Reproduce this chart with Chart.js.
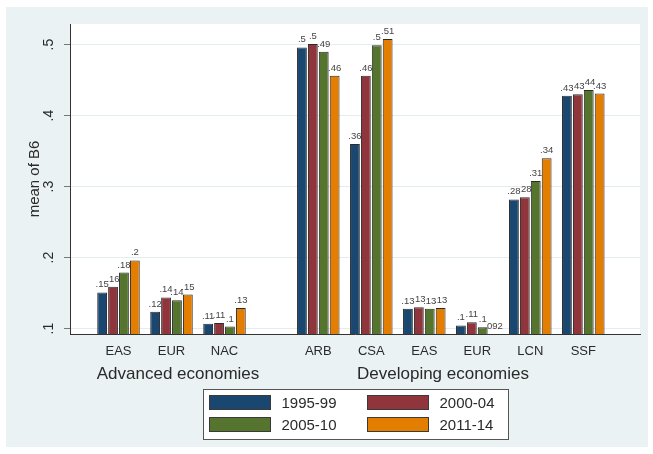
<!DOCTYPE html>
<html>
<head>
<meta charset="utf-8">
<script src="https://cdn.jsdelivr.net/npm/chart.js@4.4.1/dist/chart.umd.min.js"></script>
<style>
  html, body { margin: 0; padding: 0; background: #fff; }
  #wrap { width: 653px; height: 454px; position: relative; }
  canvas { display: block; }
</style>
</head>
<body>
<div id="wrap"><canvas id="c" width="653" height="454"></canvas></div>
<script>
// Regions (inner category) and the economy group each belongs to
const regions = ['EAS', 'EUR', 'NAC', 'ARB', 'CSA', 'EAS', 'EUR', 'LCN', 'SSF'];
const groups = ['Advanced economies', 'Developing economies'];
const groupOf = [0, 0, 0, 1, 1, 1, 1, 1, 1];

// Periods (series)
const periods = ['1995-99', '2000-04', '2005-10', '2011-14'];

// Mean of B6 by region, one array per period
const b6_1995_99 = [0.151, 0.124, 0.107, 0.496, 0.360, 0.128, 0.1045, 0.282, 0.428];
const b6_2000_04 = [0.159, 0.144, 0.108, 0.501, 0.456, 0.130, 0.109, 0.2849, 0.430];
const b6_2005_10 = [0.179, 0.140, 0.103, 0.490, 0.499, 0.128, 0.102, 0.308, 0.436];
const b6_2011_14 = [0.196, 0.148, 0.129, 0.456, 0.508, 0.129, 0.092, 0.340, 0.431];

// Value-axis ticks
const yTicks = [0.1, 0.2, 0.3, 0.4, 0.5];

// ---- presentation ----
const FONT = "'Liberation Sans', Arial, sans-serif";
const TEXT = '#2a2a2a';
const colors = ['#1a476f', '#90353b', '#55752f', '#e37e00'];
const series = [b6_1995_99, b6_2000_04, b6_2005_10, b6_2011_14];
const GROUP_GAP = 0.77;              // extra space between the two economy groups
const xPos = regions.map((_, i) => i + (groupOf[i] === 1 ? GROUP_GAP : 0));
const groupLabelX = [178, 443];      // centres of the group captions (px)

// Stata-like %9.2g label: two significant digits, no leading zero
const fmt = v => String(Number(v.toPrecision(2))).replace(/^0\./, '.');

const decor = {
  id: 'decor',
  beforeDraw(chart) {
    const { ctx, chartArea: a } = chart;
    ctx.save();
    ctx.fillStyle = '#ffffff';
    ctx.fillRect(0, 0, chart.width, chart.height);
    ctx.fillStyle = '#eaf2f3';
    ctx.fillRect(6, 7, 642, 440);
    ctx.fillStyle = '#ffffff';
    ctx.fillRect(a.left, a.top, a.right - a.left, a.bottom - a.top);
    ctx.restore();
  },
  afterDatasetsDraw(chart) {
    const ctx = chart.ctx;
    ctx.save();
    ctx.font = '9.5px ' + FONT;
    ctx.fillStyle = '#444';
    ctx.textAlign = 'center';
    ctx.textBaseline = 'alphabetic';
    chart.data.datasets.forEach((ds, k) => {
      const meta = chart.getDatasetMeta(k);
      meta.data.forEach((bar, i) => {
        const top = Math.min(bar.y, chart.chartArea.bottom);
        ctx.fillText(fmt(series[k][i]), bar.x, top - 5);
      });
    });
    ctx.restore();
  },
  afterDraw(chart) {
    const ctx = chart.ctx;
    const ys = chart.scales.y;
    ctx.save();
    // rotated value-axis labels
    ctx.fillStyle = TEXT;
    ctx.font = '14px ' + FONT;
    ctx.textAlign = 'center';
    ctx.textBaseline = 'middle';
    yTicks.forEach(v => {
      ctx.save();
      ctx.translate(49, ys.getPixelForValue(v));
      ctx.rotate(-Math.PI / 2);
      ctx.fillText(fmt(v), 0, 0);
      ctx.restore();
    });
    // group captions
    ctx.font = '17px ' + FONT;
    groups.forEach((g, j) => ctx.fillText(g, groupLabelX[j], 374));
    // legend box
    const bx = 203.5, by = 389.5, bw = 305, bh = 50;
    ctx.fillStyle = '#ffffff';
    ctx.fillRect(bx, by, bw, bh);
    ctx.strokeStyle = '#555';
    ctx.lineWidth = 1;
    ctx.strokeRect(bx, by, bw, bh);
    ctx.font = '15px ' + FONT;
    ctx.textAlign = 'left';
    chart.data.datasets.forEach((ds, k) => {
      const col = k % 2, row = Math.floor(k / 2);
      const sx = 209.5 + col * 158, sy = 395.5 + row * 22;
      ctx.fillStyle = ds.backgroundColor;
      ctx.fillRect(sx, sy, 61, 14);
      ctx.strokeStyle = '#3a3a3a';
      ctx.strokeRect(sx, sy, 61, 14);
      ctx.fillStyle = TEXT;
      ctx.fillText(ds.label, sx + 72, sy + 8);
    });
    ctx.restore();
  }
};

new Chart(document.getElementById('c'), {
  type: 'bar',
  data: {
    datasets: periods.map((p, k) => ({
      label: p,
      data: series[k].map((v, i) => ({ x: xPos[i], y: v })),
      backgroundColor: colors[k],
      borderColor: '#2b2b2b',
      borderWidth: 1,
      borderSkipped: false,
      categoryPercentage: 0.823,
      barPercentage: 0.9,
      clip: 0
    }))
  },
  options: {
    responsive: false,
    animation: false,
    devicePixelRatio: 1,
    layout: { padding: { left: 0, top: 24, right: 13, bottom: 0 } },
    plugins: { legend: { display: false }, tooltip: { enabled: false } },
    scales: {
      x: {
        type: 'linear',
        min: -0.915,
        max: 9.84,
        offset: false,
        afterBuildTicks: s => { s.ticks = xPos.map(v => ({ value: v })); },
        afterFit: s => { s.height = 120; },
        grid: { display: false, drawTicks: false, offset: false },
        border: { display: true, color: '#333', width: 1 },
        ticks: {
          autoSkip: false, maxRotation: 0, minRotation: 0, padding: 10,
          color: TEXT, font: { family: FONT, size: 13 },
          callback: (v, i) => regions[i]
        }
      },
      y: {
        min: 0.0925,
        max: 0.529,
        afterBuildTicks: s => { s.ticks = yTicks.map(v => ({ value: v })); },
        afterFit: s => { s.width = 70; },
        grid: { color: '#e3ecee', lineWidth: 1, drawTicks: true, tickLength: 6, tickColor: '#777', tickWidth: 1 },
        border: { display: true, color: '#333', width: 1 },
        ticks: { display: false },
        title: {
          display: true, text: 'mean of B6', color: TEXT,
          font: { family: FONT, size: 15 }, padding: { top: 26, bottom: 0 }
        }
      }
    }
  },
  plugins: [decor]
});
</script>
</body>
</html>
